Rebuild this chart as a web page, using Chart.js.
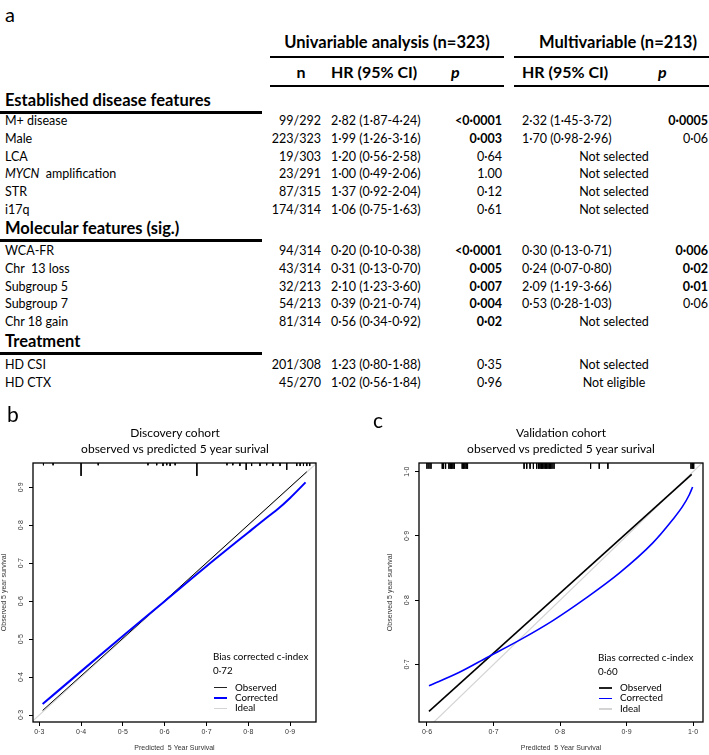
<!DOCTYPE html>
<html>
<head>
<meta charset="utf-8">
<script src="https://cdn.jsdelivr.net/npm/chart.js@4.4.1/dist/chart.umd.min.js"></script>
<style>
  html, body { margin: 0; padding: 0; background: #fff; }
  #page { position: relative; width: 709px; height: 755px; overflow: hidden; font-family: Lato, "Open Sans", sans-serif; color: #000; }
  .t { position: absolute; white-space: pre; line-height: 1; }
  .rule { position: absolute; background: #000; }
  canvas { position: absolute; }
</style>
</head>
<body>
<div id="page">
  <canvas id="chartB" width="345" height="355" style="left:0;top:400px"></canvas>
  <canvas id="chartC" width="339" height="355" style="left:370px;top:400px"></canvas>
</div>
<script>
// ---- table (panel a) ----
const sections = ["Established disease features", "Molecular features (sig.)", "Treatment"];
const featureNames = ["M+ disease", "Male", "LCA", "<i>MYCN</i>  amplification", "STR", "i17q",
  "WCA-FR", "Chr  13 loss", "Subgroup 5", "Subgroup 7", "Chr 18 gain",
  "HD CSI", "HD CTX"];
const featureSection = [0, 0, 0, 0, 0, 0, 1, 1, 1, 1, 1, 2, 2];
const uniN = ["99/292", "223/323", "19/303", "23/291", "87/315", "174/314",
  "94/314", "43/314", "32/213", "54/213", "81/314", "201/308", "45/270"];
const uniHR = ["2·82 (1·87-4·24)", "1·99 (1·26-3·16)", "1·20 (0·56-2·58)", "1·00 (0·49-2·06)",
  "1·37 (0·92-2·04)", "1·06 (0·75-1·63)", "0·20 (0·10-0·38)", "0·31 (0·13-0·70)",
  "2·10 (1·23-3·60)", "0·39 (0·21-0·74)", "0·56 (0·34-0·92)", "1·23 (0·80-1·88)", "1·02 (0·56-1·84)"];
const uniP = ["<0·0001", "0·003", "0·64", "1.00", "0·12", "0·61",
  "<0·0001", "0·005", "0·007", "0·004", "0·02", "0·35", "0·96"];
const uniSig = [1, 1, 0, 0, 0, 0, 1, 1, 1, 1, 1, 0, 0];
const multiHR = ["2·32 (1·45-3·72)", "1·70 (0·98-2·96)", "", "", "", "",
  "0·30 (0·13-0·71)", "0·24 (0·07-0·80)", "2·09 (1·19-3·66)", "0·53 (0·28-1·03)", "", "", ""];
const multiP = ["0·0005", "0·06", "", "", "", "", "0·006", "0·02", "0·01", "0·06", "", "", ""];
const multiSig = [1, 0, 0, 0, 0, 0, 1, 1, 1, 0, 0, 0, 0];
const multiNote = ["", "", "Not selected", "Not selected", "Not selected", "Not selected",
  "", "", "", "", "Not selected", "Not selected", "Not eligible"];

// ---- panel b: discovery cohort ----
const bPredicted = [0.308, 0.40, 0.50, 0.60, 0.70, 0.80, 0.85, 0.87, 0.90, 0.937];
const bCorrected = [0.329, 0.415, 0.508, 0.600, 0.692, 0.781, 0.825, 0.842, 0.872, 0.913];
const bObservedX = [0.308, 0.60, 0.94];
const bObservedY = [0.312, 0.601, 0.941];
const bIdeal = [0.25, 1.0];
const bRug = [0.31, 0.333, 0.40, 0.441, 0.56, 0.581, 0.596, 0.605, 0.613, 0.625, 0.677,
  0.749, 0.763, 0.78, 0.795, 0.808, 0.828, 0.844, 0.859, 0.876, 0.892,
  0.916, 0.924, 0.932, 0.94, 0.947];
const bRugHeight = [0.006, 0.006, 0.034, 0.006, 0.006, 0.006, 0.008, 0.006, 0.008, 0.006, 0.034,
  0.006, 0.006, 0.008, 0.018, 0.008, 0.008, 0.006, 0.008, 0.008, 0.018,
  0.008, 0.008, 0.008, 0.008, 0.008];

// ---- panel c: validation cohort ----
const cPredicted = [0.603, 0.648, 0.691, 0.7385, 0.7887, 0.8389, 0.8891, 0.9392, 0.9693, 0.9843, 0.9944, 0.9994];
const cCorrected = [0.667, 0.6875, 0.7113, 0.7375, 0.768, 0.8033, 0.8422, 0.8889, 0.9253, 0.946, 0.9642, 0.9762];
const cObservedX = [0.603, 0.998];
const cObservedY = [0.627, 0.996];
const cIdeal = [0.55, 1.05];
const cRug = [0.600, 0.603, 0.606, 0.623, 0.625, 0.628, 0.633, 0.635, 0.637, 0.639, 0.641,
  0.653, 0.655, 0.657, 0.659, 0.661,
  0.746, 0.750, 0.755, 0.760, 0.765, 0.768, 0.770, 0.772, 0.774, 0.776, 0.778, 0.780,
  0.782, 0.784, 0.786, 0.788, 0.791, 0.846, 0.859, 0.872, 0.997, 0.999, 1.001];
const cRugHeight = cRug.map(() => 0.009);

// ---------- table drawing ----------
const page = document.getElementById("page");

function text(str, x, y, opt) {
  const o = opt || {};
  const el = document.createElement("div");
  el.className = "t";
  el.innerHTML = str;
  el.style.left = x + "px";
  el.style.top = y + "px";
  el.style.fontSize = (o.size || 12) + "px";
  if (o.bold) el.style.fontWeight = "bold";
  if (o.italic) el.style.fontStyle = "italic";
  const tx = o.align === "right" ? "-100%" : o.align === "center" ? "-50%" : "0";
  el.style.transform = "translate(" + tx + ",-50%)";
  page.appendChild(el);
  return el;
}

function rule(x1, x2, y, h) {
  const el = document.createElement("div");
  el.className = "rule";
  el.style.left = x1 + "px";
  el.style.width = (x2 - x1) + "px";
  el.style.top = (y - h / 2) + "px";
  el.style.height = h + "px";
  page.appendChild(el);
}

text("a", 5, 14, { size: 20 });
text("Univariable analysis (n=323)", 387, 42, { size: 16.5, bold: true, align: "center" });
text("Multivariable (n=213)", 618, 42, { size: 16.5, bold: true, align: "center" });
rule(270, 504, 57, 2);
rule(514, 709, 57, 2);
text("n", 301, 72, { size: 16, bold: true, align: "center" });
text("HR (95% CI)", 331, 72, { size: 16, bold: true });
text("p", 451, 72, { size: 16, bold: true, italic: true });
text("HR (95% CI)", 522, 72, { size: 16, bold: true });
text("p", 658, 72, { size: 16, bold: true, italic: true });
rule(270, 504, 85.5, 2);
rule(514, 709, 85.5, 2);

const sectionY = [100, 228, 341];
const firstRowY = [121, 251, 365];
const rowStep = 17.8;
const colN = 321, colHR = 331, colP = 502, colMHR = 522, colMP = 708, colNote = 614;

sections.forEach((s, si) => {
  text(s, 5, sectionY[si], { size: 16.5, bold: true });
  rule(0, 262, sectionY[si] + 12.5, 2.5);
});

const rowInSection = [0, 0, 0];
featureNames.forEach((name, i) => {
  const si = featureSection[i];
  const y = firstRowY[si] + rowStep * rowInSection[si]++;
  text(name, 5, y, { size: 12.5 });
  text(uniN[i], colN, y, { size: 12.5, align: "right" });
  text(uniHR[i], colHR, y, { size: 12.5 });
  text(uniP[i], colP, y, { size: 12.5, align: "right", bold: uniSig[i] === 1 });
  if (multiHR[i]) {
    text(multiHR[i], colMHR, y, { size: 12.5 });
    text(multiP[i], colMP, y, { size: 12.5, align: "right", bold: multiSig[i] === 1 });
  } else {
    text(multiNote[i], colNote, y, { size: 12.5, align: "center" });
  }
});

// ---------- panels b / c ----------
text("b", 7, 413, { size: 21 });
text("c", 373, 419, { size: 21 });
text("Discovery cohort", 175, 433, { size: 12, align: "center" });
text("observed vs predicted 5 year surival", 175, 449, { size: 12, align: "center" });
text("Validation cohort", 561, 433, { size: 12, align: "center" });
text("observed vs predicted 5 year surival", 561, 449, { size: 12, align: "center" });

function legend(x, y, cindex) {
  text("Bias corrected c-index", x, y, { size: 9.8 });
  text(cindex, x, y + 14, { size: 9.8 });
  const items = [["Observed", "#222"], ["Corrected", "#0000ff"], ["Ideal", "#d4d4d4"]];
  items.forEach((it, k) => {
    const yy = y + 30.5 + k * 10.4;
    const sw = document.createElement("div");
    sw.className = "rule";
    sw.style.left = (x + 1) + "px";
    sw.style.width = "13px";
    sw.style.top = (yy - 0.8) + "px";
    sw.style.height = "1.6px";
    sw.style.background = it[1];
    page.appendChild(sw);
    text(it[0], x + 22, yy, { size: 9.8 });
  });
}
legend(213, 657, "0·72");
legend(598, 657.5, "0·60");

function fmt(v) {
  return v.toFixed(1).replace(".", "\u00b7");
}

const framePlugin = {
  id: "frame",
  afterDatasetsDraw(chart) {
    const a = chart.chartArea;
    const ctx = chart.ctx;
    ctx.save();
    ctx.strokeStyle = "#000";
    ctx.lineWidth = 1.3;
    ctx.strokeRect(a.left, a.top, a.right - a.left, a.bottom - a.top);
    ctx.restore();
  }
};

function pairs(xs, ys) {
  return xs.map((x, i) => ({ x: x, y: ys[i] }));
}

function rugPoints(xs, hs, top) {
  const pts = [];
  xs.forEach((x, i) => {
    pts.push({ x: x, y: top }, { x: x, y: top - hs[i] }, { x: x, y: null });
  });
  return pts;
}

const tickFont = { family: "Liberation Sans", size: 7 };

function calibrationChart(id, o) {
  return new Chart(document.getElementById(id), {
    type: "scatter",
    data: {
      datasets: [
        { label: "Corrected", data: pairs(o.predX, o.corr), showLine: true, borderColor: "#0000ff",
          borderWidth: o.blueWidth, pointRadius: 0, cubicInterpolationMode: "monotone" },
        { label: "Observed", data: pairs(o.obsX, o.obsY), showLine: true, borderColor: "#000",
          borderWidth: o.blackWidth, pointRadius: 0 },
        { label: "Ideal", data: pairs(o.ideal, o.ideal), showLine: true, borderColor: "#d4d4d4",
          borderWidth: 1.2, pointRadius: 0 },
        { label: "rug", data: rugPoints(o.rugX, o.rugH, o.yMax), showLine: true, spanGaps: false,
          borderColor: "#000", borderWidth: 1, pointRadius: 0 }
      ]
    },
    options: {
      responsive: false,
      animation: false,
      layout: { padding: o.padding },
      plugins: { legend: { display: false }, tooltip: { enabled: false } },
      scales: {
        x: {
          type: "linear", min: o.xMin, max: o.xMax,
          afterFit(s) { s.height = 33; },
          ticks: { stepSize: 0.1, includeBounds: false, autoSkip: false, maxRotation: 0,
            callback: (v) => fmt(v), font: tickFont, color: "#333", padding: 2 },
          grid: { drawOnChartArea: false, drawTicks: true, tickLength: 4, color: "#000" },
          border: { display: false },
          title: { display: true, text: "Predicted  5 Year Survival", font: tickFont, color: "#333",
            padding: { top: 0, bottom: 3 } }
        },
        y: {
          type: "linear", min: o.yMin, max: o.yMax,
          afterFit(s) { s.width = 33; },
          ticks: { stepSize: 0.1, includeBounds: false, autoSkip: false, minRotation: 90, maxRotation: 90,
            crossAlign: "center", callback: (v) => fmt(v), font: tickFont, color: "#333", padding: 3 },
          grid: { drawOnChartArea: false, drawTicks: true, tickLength: 4, color: "#000" },
          border: { display: false },
          title: { display: true, text: "Observed 5 year survival", font: tickFont, color: "#333",
            padding: 0 }
        }
      }
    },
    plugins: [framePlugin]
  });
}

calibrationChart("chartB", {
  predX: bPredicted, corr: bCorrected, obsX: bObservedX, obsY: bObservedY, ideal: bIdeal,
  rugX: bRug, rugH: bRugHeight, xMin: 0.285, xMax: 0.962, yMin: 0.2816, yMax: 0.964,
  blueWidth: 2, blackWidth: 1, padding: { top: 63, right: 29, bottom: 0, left: 0 }
});

calibrationChart("chartC", {
  predX: cPredicted, corr: cCorrected, obsX: cObservedX, obsY: cObservedY, ideal: cIdeal,
  rugX: cRug, rugH: cRugHeight, xMin: 0.588, xMax: 1.015, yMin: 0.6105, yMax: 1.0136,
  blueWidth: 1.6, blackWidth: 1.6, padding: { top: 63, right: 6, bottom: 0, left: 16 }
});
</script>
</body>
</html>
